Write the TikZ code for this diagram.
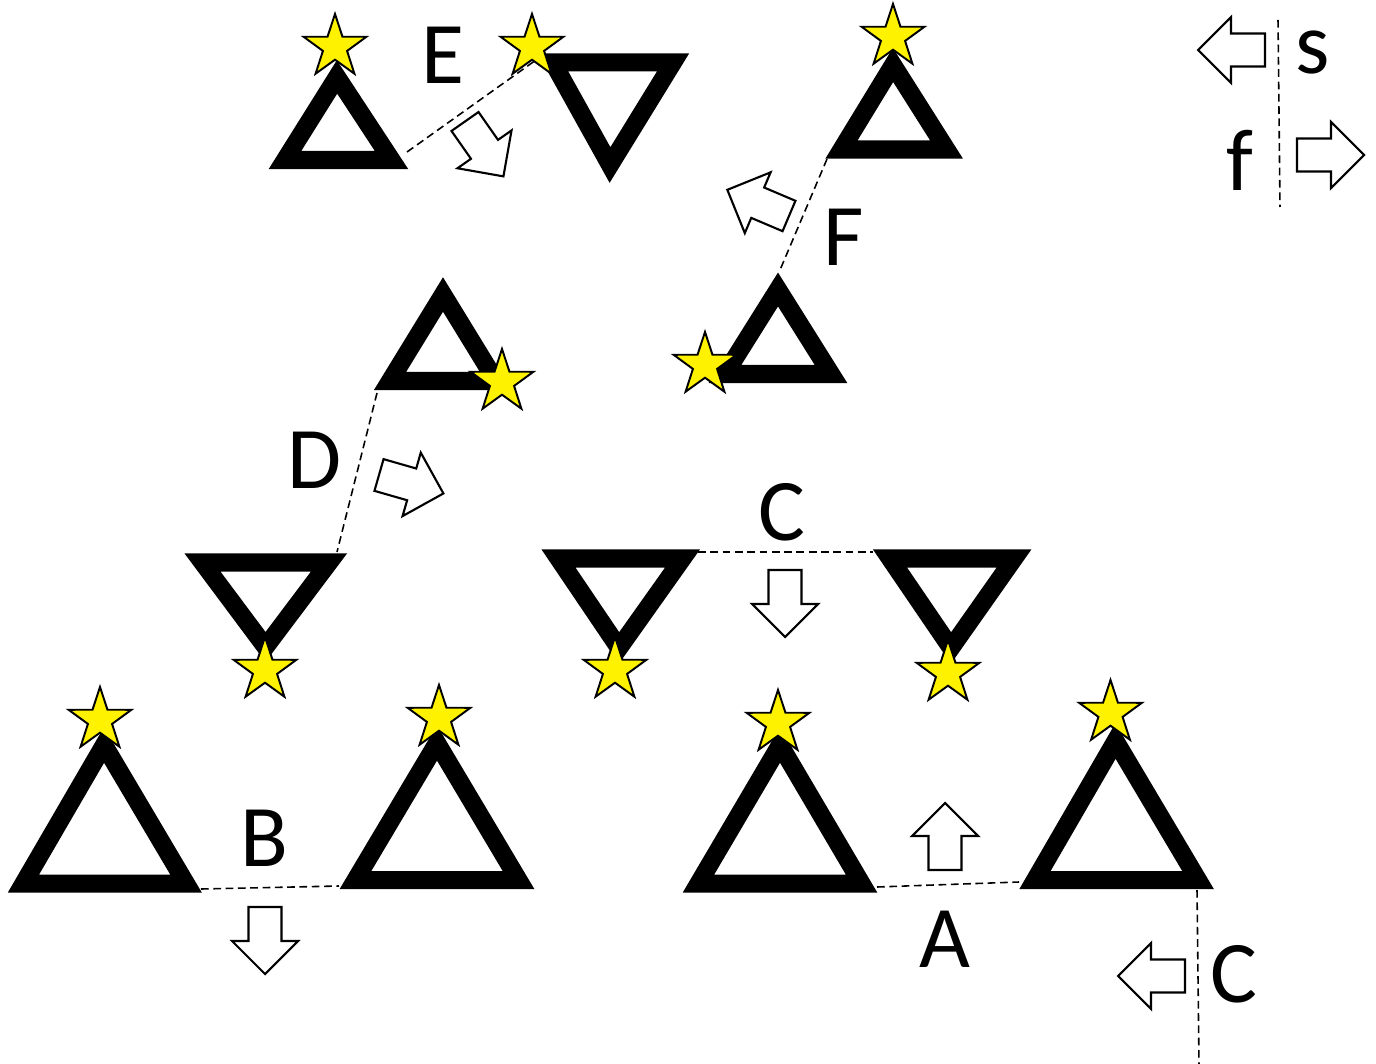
\documentclass[tikz,border=0pt]{standalone}
\usepackage{fontspec}
\setmainfont{Carlito}
\usepackage{tikz}
\usetikzlibrary{shapes.geometric}

% block arrow: tail centre, direction angle
\newcommand{\blockarrow}[2]{%
  \draw[move, shift={(#1)}, rotate=#2]
    (0,-16.5) -- (34,-16.5) -- (34,-33) -- (67,0) -- (34,33) -- (34,16.5) -- (0,16.5) -- cycle;}

\begin{document}
\begin{tikzpicture}[x=0.01cm, y=-0.01cm,
    tri/.style={line width=0.18cm, line join=miter},
    link/.style={line width=0.45pt, dash pattern=on 2.2pt off 1.3pt},
    marker/.style={star, star points=5, star point ratio=2.6, minimum size=0.66cm,
      inner sep=0pt, fill=yellow, draw=black, line width=0.55pt},
    move/.style={draw=black, fill=white, line width=0.6pt, line join=miter},
    lbl/.style={font=\fontsize{25}{30}\selectfont, inner sep=0pt}]
  \useasboundingbox (0,0) rectangle (1376,1064);
  % corners where the dashed links meet
  \coordinate (B1) at (201,889);
  \coordinate (B2) at (339,886);
  \coordinate (A1) at (877,887);
  \coordinate (A2) at (1019,882);
  \coordinate (C3) at (1197,890);
  \coordinate (C4) at (1199,1064);
  \coordinate (C1) at (698,552);
  \coordinate (C2) at (873,552);
  \coordinate (D1) at (377,393);
  \coordinate (D2) at (337,552);
  \coordinate (F1) at (827,159);
  \coordinate (F2) at (780,270);
  \coordinate (E1) at (407,152);
  \coordinate (E2) at (543,55);
  \coordinate (S1) at (1278,20);
  \coordinate (S2) at (1280,207);
  % triangles
  \draw[tri] (23.5,883.5) -- (186,883.5) -- (104,745) -- cycle;
  \draw[tri] (355.5,880) -- (518.5,880) -- (437,743) -- cycle;
  \draw[tri] (698.5,883.5) -- (861.5,883.5) -- (780,745) -- cycle;
  \draw[tri] (1035,880) -- (1198,880) -- (1115.5,741) -- cycle;
  \draw[tri] (202.5,562.5) -- (329,562.5) -- (265.5,647) -- cycle;
  \draw[tri] (558.5,558.5) -- (682.5,558.5) -- (619,648) -- cycle;
  \draw[tri] (890,558.5) -- (1014,558.5) -- (951,648) -- cycle;
  \draw[tri] (390,381) -- (496,381) -- (443,294.5) -- cycle;
  \draw[tri] (725,374) -- (831,374) -- (778,289.5) -- cycle;
  \draw[tri] (841.5,149.5) -- (946.5,149.5) -- (893,65) -- cycle;
  \draw[tri] (285,160) -- (391.5,160) -- (337,77) -- cycle;
  \draw[tri] (553,62.5) -- (673,62.5) -- (610,165) -- cycle;
  % dashed links
  \draw[link] (B1) -- (B2);
  \draw[link] (A1) -- (A2);
  \draw[link] (C3) -- (C4);
  \draw[link] (C1) -- (C2);
  \draw[link] (D1) -- (D2);
  \draw[link] (F1) -- (F2);
  \draw[link] (E1) -- (E2);
  \draw[link] (S1) -- (S2);
  % stars
  \node[marker] (sB1) at (100,720) {};
  \node[marker] (sB2) at (439,718) {};
  \node[marker] (sA1) at (778,723) {};
  \node[marker] (sA2) at (1110.5,713) {};
  \node[marker] (sD1) at (265,670) {};
  \node[marker] (sC1) at (615,670) {};
  \node[marker] (sC2) at (948,673) {};
  \node[marker] (sD2) at (502,382) {};
  \node[marker] (sF1) at (705,365) {};
  \node[marker] (sF2) at (893,37) {};
  \node[marker] (sE1) at (335,47) {};
  \node[marker] (sE2) at (532,47) {};
  % block arrows
  \blockarrow{465,121.5}{-55}
  \blockarrow{789,216}{157}
  \blockarrow{379,475}{-16}
  \blockarrow{785,570}{-90}
  \blockarrow{265,907}{-90}
  \blockarrow{945,870}{90}
  \blockarrow{1185,976}{180}
  \blockarrow{1265,50}{180}
  \blockarrow{1297,155}{0}
  % labels
  \node[lbl] (lE) at (443,55) {E};
  \node[lbl] (lF) at (844,237) {F};
  \node[lbl] (lD) at (315,460) {D};
  \node[lbl] (lC) at (782,512) {C};
  \node[lbl] (lB) at (264.5,838) {B};
  \node[lbl] (lA) at (945,939) {A};
  \node[lbl] (lCv) at (1234,974) {C};
  \node[lbl] (ls) at (1313,53) {s};
  \node[lbl] (lf) at (1240,160.5) {f};
\end{tikzpicture}
\end{document}
